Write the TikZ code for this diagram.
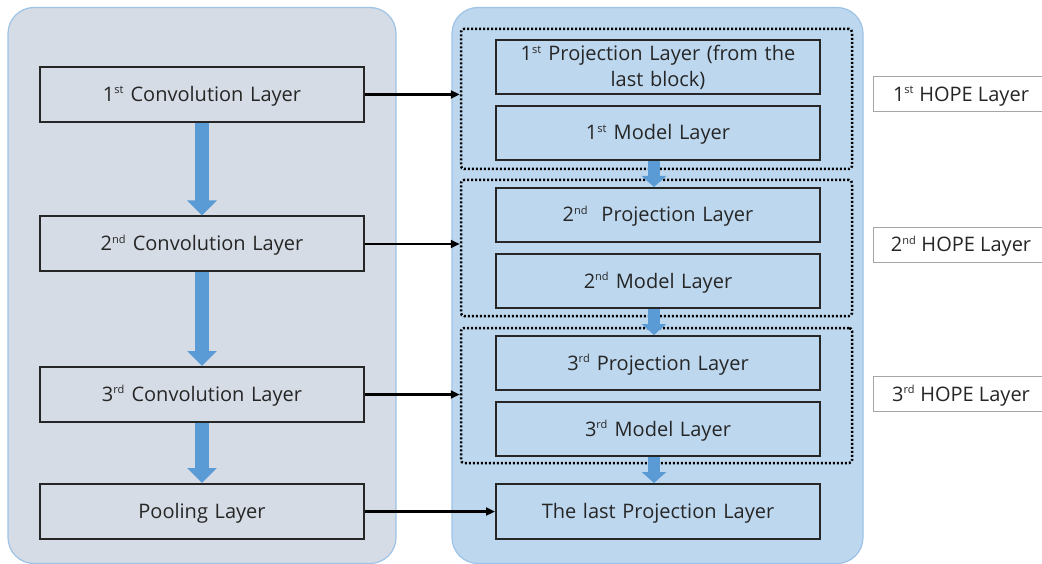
\documentclass[tikz,border=0pt]{standalone}
\usepackage{fontspec}
\setmainfont{Open Sans}
\usetikzlibrary{arrows.meta,calc}
\definecolor{leftfill}{HTML}{D6DCE5}
\definecolor{rightfill}{HTML}{BDD7EE}
\definecolor{panelborder}{HTML}{9DC3E6}
\definecolor{fatblue}{HTML}{5B9BD5}
\definecolor{txt}{HTML}{262626}
\newcommand{\sx}[1]{\textsuperscript{\fontsize{11}{11}\selectfont #1}}
\tikzset{
  panel/.style={draw=panelborder, line width=1.2pt, rounded corners=26pt, inner sep=0pt},
  lbox/.style={draw=black!85, line width=2pt, minimum width=324pt, minimum height=55pt, inner sep=0pt, text width=310pt, align=center, text=txt, font=\fontsize{20}{26}\selectfont, text height=14pt, text depth=0pt},
  grp/.style={draw=black, dash pattern=on 2pt off 2pt, line width=2.5pt, rounded corners=3pt, inner sep=0pt},
  hope/.style={draw=gray!70, line width=1pt, fill=white, minimum width=176pt, minimum height=35pt, inner sep=0pt, text=txt, font=\fontsize{20}{23}\selectfont, text height=14pt, text depth=0pt},
  link/.style={-{Triangle[length=9pt,width=8pt]}, line width=2.5pt, black},
  fat/.style={-{Triangle[length=15pt,width=29pt]}, line width=14pt, fatblue},
  slim/.style={-{Triangle[length=11pt,width=24pt]}, line width=12pt, fatblue},
}
\begin{document}
\begin{tikzpicture}[x=1pt,y=-1pt]
\clip (0,0) rectangle (1042,564);
\useasboundingbox (0,0) rectangle (1042,564);
% panels
\node[panel, fill=leftfill, minimum width=388pt, minimum height=556pt] (L) at (202,285.5) {};
\node[panel, fill=rightfill, minimum width=411pt, minimum height=556pt] (R) at (657.5,285.5) {};
% groups
\node[grp, minimum width=391pt, minimum height=140pt] (g1) at (656.5,99) {};
\node[grp, minimum width=391pt, minimum height=136pt] (g2) at (656.5,248) {};
\node[grp, minimum width=391pt, minimum height=135pt] (g3) at (656.5,395.5) {};
% left boxes
\node[lbox] (c1) at (202,94.5) {1\sx{st} Convolution Layer};
\node[lbox] (c2) at (202,244) {2\sx{nd} Convolution Layer};
\node[lbox] (c3) at (202,394.5) {3\sx{rd} Convolution Layer};
\node[lbox] (pool) at (202,511.5) {Pooling Layer};
% right boxes
\node[lbox, minimum height=54pt, text depth=26pt] (p1) at (658,67) {1\sx{st} Projection Layer (from the\\last block)};
\node[lbox, minimum height=54pt] (m1) at (658,133) {1\sx{st} Model Layer};
\node[lbox, minimum height=54pt] (p2) at (658,215) {2\sx{nd}\ \ Projection Layer};
\node[lbox, minimum height=54pt] (m2) at (658,281) {2\sx{nd} Model Layer};
\node[lbox, minimum height=54pt] (p3) at (658,363) {3\sx{rd} Projection Layer};
\node[lbox, minimum height=54pt] (m3) at (658,429) {3\sx{rd} Model Layer};
\node[lbox] (last) at (658,511.5) {The last Projection Layer};
% HOPE labels
\node[hope] (h1) at (961,94.5) {1\sx{st} HOPE Layer\hspace{8pt}};
\node[hope] (h2) at (961,245) {2\sx{nd} HOPE Layer\hspace{8pt}};
\node[hope] (h3) at (961,394) {3\sx{rd} HOPE Layer\hspace{8pt}};
% fat arrows
\draw[fat] (c1.south) -- (c2.north);
\draw[fat] (c2.south) -- (c3.north);
\draw[fat] (c3.south) -- (pool.north);
\draw[slim] ([xshift=-4pt]m1.south) -- ([xshift=-4pt]p2.north);
\draw[slim] ([xshift=-4pt]m2.south) -- ([xshift=-4pt]p3.north);
\draw[slim] ([xshift=-4pt]m3.south) -- ([xshift=-4pt]last.north);
% links
\draw[link] (c1.east) -- (c1.east -| g1.west);
\draw[link] (c2.east) -- (c2.east -| g2.west);
\draw[link] (c3.east) -- (c3.east -| g3.west);
\draw[link] (pool.east) -- (last.west);
\end{tikzpicture}
\end{document}
